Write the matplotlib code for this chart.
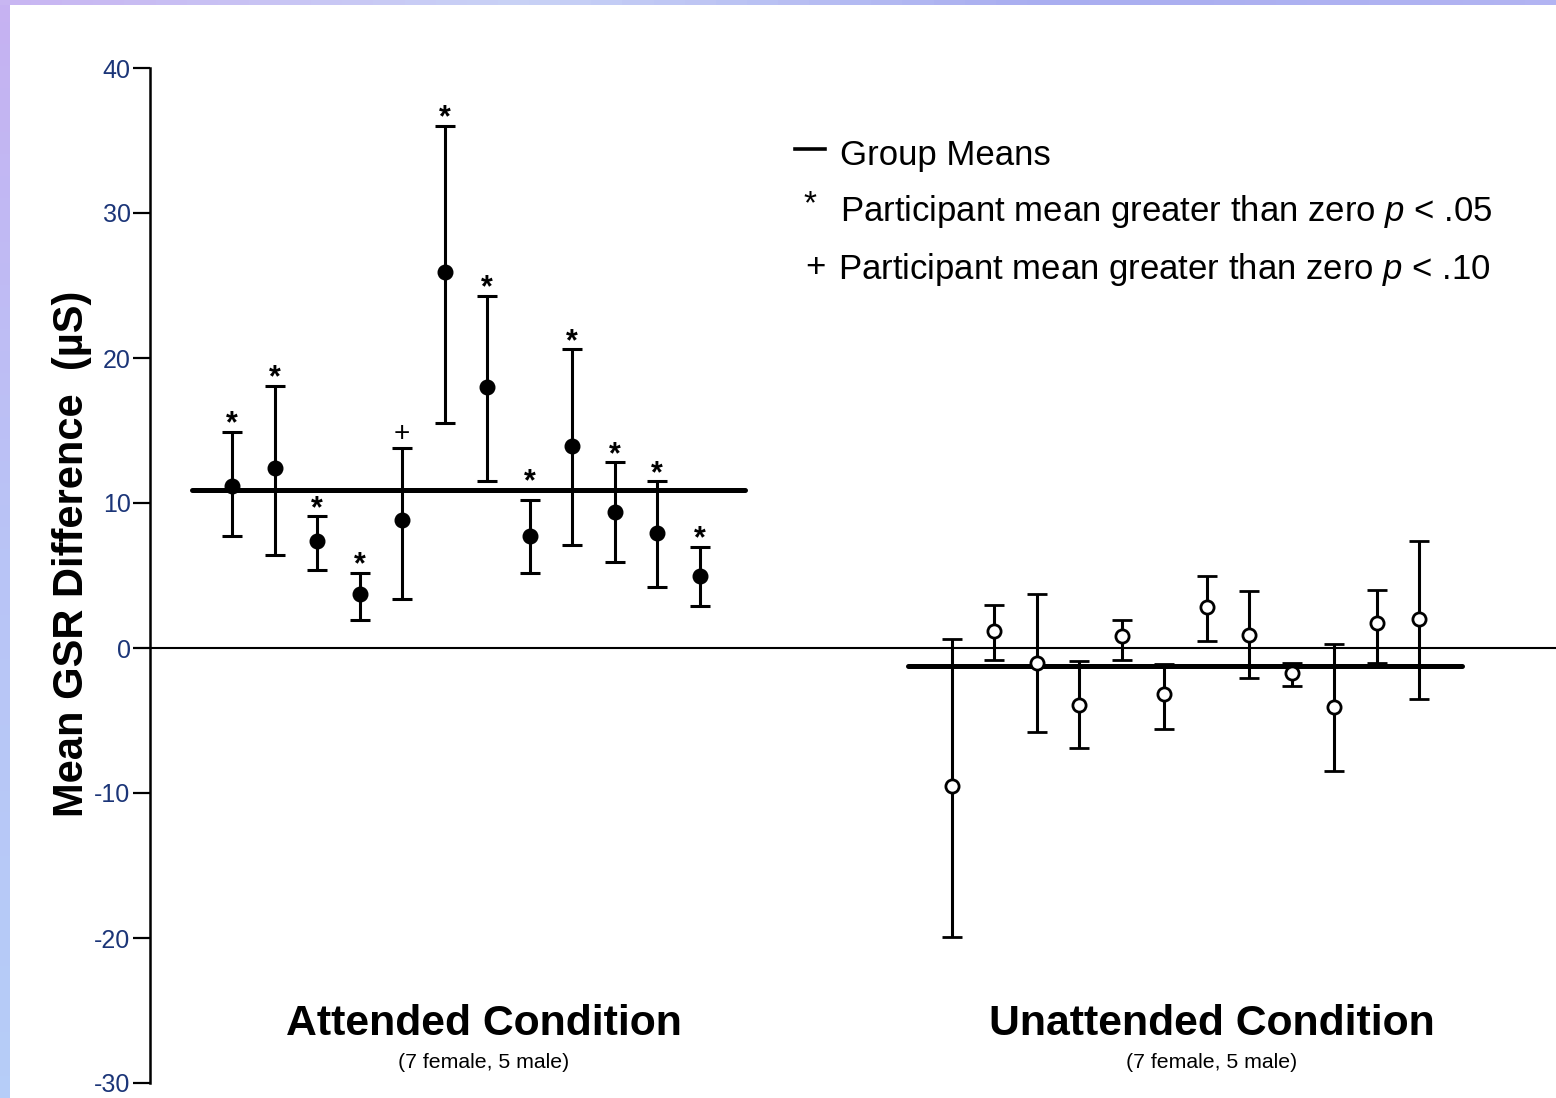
import numpy as np
import matplotlib
matplotlib.use("Agg")
import matplotlib.pyplot as plt

# participant means and error-bar ends (uS), read left to right
att_mean = [11.2, 12.4, 7.4, 3.7, 8.8, 25.9, 18.0, 7.7, 13.9, 9.4, 7.9, 5.0]
att_high = [14.9, 18.1, 9.1, 5.2, 13.8, 36.0, 24.3, 10.2, 20.6, 12.8, 11.5, 7.0]
att_low = [7.7, 6.4, 5.4, 1.9, 3.4, 15.5, 11.5, 5.2, 7.1, 5.9, 4.2, 2.9]
att_sig = ['*', '*', '*', '*', '+', '*', '*', '*', '*', '*', '*', '*']
att_group_mean = 10.9

un_mean = [-9.5, 1.2, -1.0, -3.9, 0.8, -3.2, 2.8, 0.9, -1.7, -4.1, 1.7, 2.0]
un_high = [0.6, 3.0, 3.7, -0.9, 1.9, -1.1, 5.0, 3.9, -1.0, 0.3, 4.0, 7.4]
un_low = [-19.9, -0.8, -5.8, -6.9, -0.8, -5.6, 0.5, -2.1, -2.6, -8.5, -1.0, -3.5]
un_group_mean = -1.25

conditions = ['Attended Condition', 'Unattended Condition']
subtitle = '(7 female, 5 male)'
yticks = [-30, -20, -10, 0, 10, 20, 30, 40]

plt.rcParams['axes.unicode_minus'] = False
plt.rcParams['mathtext.fontset'] = 'custom'
plt.rcParams['mathtext.it'] = 'Liberation Sans:italic'
plt.rcParams['mathtext.rm'] = 'Liberation Sans'

W, H = 1556, 1098
fig = plt.figure(figsize=(W / 100, H / 100), dpi=100)
fig.patch.set_facecolor('white')

# decorative slide border (left and top)
left_strip = fig.add_axes([0, 0, 10 / W, 1])
left_strip.imshow(np.linspace(0, 1, 50)[:, None], cmap=matplotlib.colors.LinearSegmentedColormap.from_list(
    'lb', ['#c6b2f2', '#b9c4f6', '#b6cdf8']), aspect='auto')
left_strip.axis('off')
top_strip = fig.add_axes([0, 1 - 5 / H, 1, 5 / H])
top_strip.imshow(np.linspace(0, 1, 50)[None, :], cmap=matplotlib.colors.LinearSegmentedColormap.from_list(
    'tb', ['#c8b6f2', '#c9d2f6', '#a9aef0', '#b2b4f2']), aspect='auto')
top_strip.axis('off')

ax = fig.add_axes([150 / W, (H - 1083) / H, 1 - 150 / W, (1083 - 68) / H])
ax.set_facecolor('none')

x_att = 1.93 + np.arange(len(att_mean))
x_un = 18.87 + np.arange(len(un_mean))

ax.axhline(0, color='black', lw=1.5, zorder=1)
ax.plot([0.99, 14.0], [att_group_mean, att_group_mean], color='black', lw=3.6,
        solid_capstyle='round', zorder=2)
ax.plot([17.84, 30.87], [un_group_mean, un_group_mean], color='black', lw=3.6,
        solid_capstyle='round', zorder=2)

att_mean = np.array(att_mean)
un_mean = np.array(un_mean)
att_err = [att_mean - np.array(att_low), np.array(att_high) - att_mean]
un_err = [un_mean - np.array(un_low), np.array(un_high) - un_mean]

ax.errorbar(x_att, att_mean, yerr=att_err, fmt='o', color='black', ms=10.5,
            elinewidth=2.2, capsize=7.5, capthick=2.2, zorder=3)
ax.errorbar(x_un, un_mean, yerr=un_err, fmt='o', color='black', mfc='white',
            mec='black', mew=2, ms=9.5, elinewidth=2.2, capsize=7.5, capthick=2.2, zorder=3)

# significance marks just above the upper caps (8th one sits a bit higher in the original)
for i, (xi, top, s) in enumerate(zip(x_att, att_high, att_sig)):
    lift = 0.75 if i == 7 else 0.0
    if s == '*':
        ax.text(xi, top - 0.05 + lift, '*', ha='center', va='baseline', fontsize=22,
                family='Liberation Sans', fontweight='bold')
    else:
        ax.text(xi, top + 0.45, '+', ha='center', va='baseline', fontsize=20,
                family='Liberation Sans')

ax.set_xlim(0, (W - 150) / 42.5)
ax.set_ylim(-30, 40)
ax.set_yticks(yticks)
ax.set_xticks([])
ax.tick_params(axis='y', length=12, width=1.6, colors='black', labelcolor='#1b3578',
               labelsize=18, pad=2)
for lab in ax.get_yticklabels():
    lab.set_family('Liberation Sans')
for s in ['top', 'right', 'bottom']:
    ax.spines[s].set_visible(False)
ax.spines['left'].set_linewidth(1.8)

fig.text(72 / W, 1 - 554 / H, 'Mean GSR Difference  (\u00b5S)', rotation=90, ha='center',
         va='center', fontsize=30, fontweight='bold', family='Liberation Sans')

for cx, name in zip([484, 1212], conditions):
    fig.text(cx / W, 1 - 1024 / H, name, ha='center', va='center', fontsize=30.8,
             fontweight='bold', family='Liberation Sans')
    fig.text(cx / W, 1 - 1062 / H, subtitle, ha='center', va='center', fontsize=15.3,
             family='Liberation Sans')

# legend drawn by hand
fig.add_artist(matplotlib.lines.Line2D([795 / W, 825 / W], [1 - 149 / H, 1 - 149 / H],
                                       color='black', lw=2.6))
fig.text(840 / W, 1 - 156 / H, 'Group Means', ha='left', va='center', fontsize=25,
         family='Liberation Sans')
fig.text(810 / W, 1 - 205 / H, '*', ha='center', va='center', fontsize=24, family='Liberation Sans')
fig.text(840 / W, 1 - 212 / H, r'Participant mean greater than zero $p$ < .05', ha='left',
         va='center', fontsize=25, family='Liberation Sans')
fig.text(815 / W, 1 - 268 / H, '+', ha='center', va='center', fontsize=25, family='Liberation Sans')
fig.text(838 / W, 1 - 269 / H, r'Participant mean greater than zero $p$ < .10', ha='left',
         va='center', fontsize=25, family='Liberation Sans')

fig.savefig('out.png', dpi=100)
